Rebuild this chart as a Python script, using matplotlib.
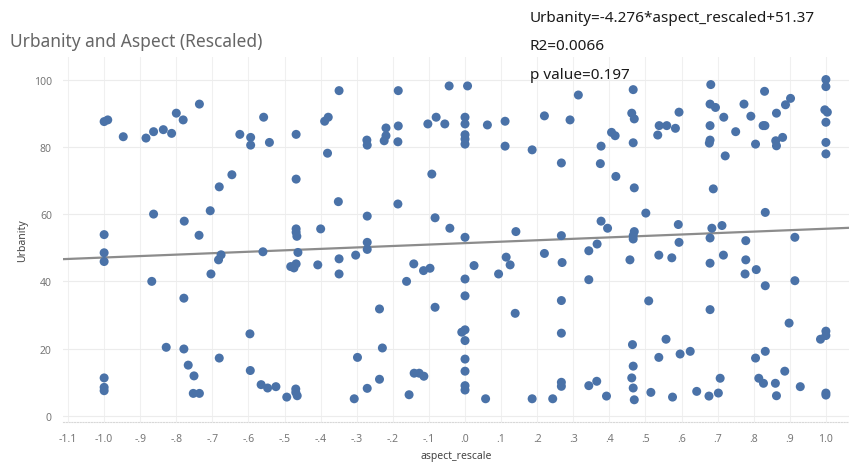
import matplotlib.pyplot as plt

# aspect_rescale (x) e Urbanity (y) de cada ponto
aspect = [
    -0.736, -1.0, -0.99, -0.947, -0.884, -0.863, -0.836, -0.813, -0.800, -0.781,
    -0.863, -0.778, -0.737, -1.0, -1.0, -1.0, -0.868, -0.779,
    -0.828, -0.779, -0.767, -0.751, -0.753, -0.736, -1.0, -1.0, -1.0,
    -0.558, -0.624, -0.594, -0.594, -0.542, -0.468, -0.349, -0.389, -0.379, -0.381,
    -0.646, -0.681, -0.706, -0.468, -0.351, -0.468, -0.468, -0.466, -0.400,
    -0.676, -0.683, -0.704, -0.560, -0.463, -0.483, -0.474, -0.468, -0.408, -0.349, -0.349,
    -0.596, -0.681, -0.595, -0.565, -0.547, -0.524, -0.494, -0.469, -0.469, -0.465,
    -0.185, -0.044, 0.007, -0.272, -0.271, -0.219, -0.219, -0.224, -0.185, -0.186,
    -0.103, -0.080, -0.056, 0.0, 0.0, 0.0, 0.0, 0.0,
    -0.092, -0.186, -0.271, -0.083, -0.042, 0.0, -0.271, -0.271, -0.303,
    -0.142, -0.115, -0.097, -0.162, 0.025, 0.0, 0.0, -0.237, -0.083,
    -0.009, 0.0, 0.0, -0.298, -0.229, 0.0, 0.0, -0.141, -0.127, -0.114,
    -0.237, -0.271, -0.307, -0.155, 0.0, 0.0,
    0.062, 0.111, 0.111, 0.186, 0.220, 0.291, 0.314, 0.267, 0.377, 0.375,
    0.141, 0.267, 0.114, 0.125, 0.093, 0.220, 0.269, 0.343, 0.366, 0.377, 0.395, 0.343,
    0.267, 0.139, 0.267, 0.343, 0.365, 0.267, 0.267, 0.057, 0.186, 0.243, 0.392,
    0.466, 0.462, 0.469, 0.466, 0.406, 0.416, 0.418, 0.469, 0.534, 0.538, 0.559, 0.583, 0.593,
    0.681, 0.679, 0.694, 0.717, 0.679, 0.679, 0.677, 0.721, 0.750, 0.773, 0.688,
    0.501, 0.469, 0.466, 0.466, 0.591, 0.593, 0.684, 0.679, 0.712,
    0.457, 0.537, 0.573, 0.679, 0.716, 0.778, 0.778, 0.776,
    0.509, 0.679, 0.464, 0.557, 0.537, 0.596, 0.624, 0.466, 0.462, 0.466, 0.469, 0.707,
    0.515, 0.575, 0.642, 0.676, 0.702,
    0.830, 0.792, 0.826, 0.831, 0.805, 0.863, 0.888, 0.902, 0.861, 0.863, 0.880,
    1.0, 1.0, 0.997, 1.004, 1.0, 1.0, 1.0,
    0.832, 0.914, 0.807, 0.832, 0.914, 0.898, 1.0, 1.0, 0.985,
    0.805, 0.832, 0.886, 0.814, 0.827, 0.860, 0.863, 0.929, 1.0, 1.0,
]
urbanity = [
    92.7, 87.5, 88.0, 83.0, 82.6, 84.5, 85.1, 84.0, 90.0, 88.0,
    60.0, 57.9, 53.7, 53.9, 48.5, 45.9, 40.0, 35.0,
    20.4, 19.9, 15.1, 11.9, 6.7, 6.7, 11.3, 8.5, 7.5,
    88.8, 83.7, 82.8, 80.5, 81.3, 83.7, 96.7, 87.6, 88.8, 78.1,
    71.7, 68.1, 61.0, 70.4, 63.7, 55.6, 54.6, 53.4, 55.6,
    47.9, 46.4, 42.2, 48.8, 48.6, 44.4, 44.0, 45.2, 44.9, 46.7, 42.2,
    24.4, 17.2, 13.5, 9.3, 8.3, 8.7, 5.6, 8.0, 7.0, 6.0,
    96.7, 98.1, 98.1, 82.0, 80.5, 85.6, 83.3, 81.8, 86.2, 81.5,
    86.8, 88.8, 86.8, 88.8, 86.8, 83.6, 82.3, 80.8,
    71.9, 63.0, 59.4, 58.9, 55.8, 53.1, 51.6, 49.5, 47.8,
    45.2, 43.2, 43.9, 40.0, 44.7, 40.7, 35.7, 31.8, 32.3,
    24.9, 25.6, 22.4, 17.4, 20.2, 16.9, 13.3, 12.7, 12.7, 11.8,
    10.9, 8.2, 5.1, 6.3, 9.0, 7.7,
    86.5, 87.6, 80.2, 79.1, 89.2, 88.0, 95.4, 75.2, 80.2, 75.0,
    54.8, 53.6, 47.2, 44.9, 42.2, 48.3, 45.6, 49.1, 51.1, 57.9, 55.8, 40.5,
    34.3, 30.5, 24.6, 9.0, 10.3, 10.0, 8.8, 5.1, 5.1, 5.1, 5.9,
    97.0, 90.0, 88.3, 81.2, 84.3, 83.3, 71.2, 67.8, 83.5, 86.3, 86.3, 85.5, 90.3,
    98.5, 92.7, 91.7, 88.8, 86.3, 82.0, 81.1, 77.3, 84.5, 92.7, 67.5,
    60.3, 54.8, 53.6, 52.6, 56.9, 51.6, 55.8, 52.9, 56.6,
    46.4, 47.8, 47.0, 45.4, 47.8, 52.1, 46.4, 42.2,
    34.2, 31.6, 21.2, 22.8, 17.4, 18.4, 19.2, 14.8, 11.3, 8.3, 4.8, 11.2,
    7.0, 5.6, 7.3, 5.9, 6.8,
    96.5, 89.1, 86.3, 86.3, 80.8, 90.0, 92.5, 94.4, 81.8, 80.3, 82.8,
    100.0, 97.9, 91.0, 90.3, 87.3, 81.3, 77.9,
    60.5, 53.1, 43.5, 38.7, 40.2, 27.6, 25.2, 23.9, 22.8,
    17.2, 19.2, 13.3, 11.2, 9.7, 9.7, 6.0, 8.7, 6.8, 6.2,
]

# coeficientes da reta de tendencia
coef = -4.276
intercepto = 51.37
r2 = 0.0066
p_valor = 0.197

x_ticks = [-1.1, -1.0, -0.9, -0.8, -0.7, -0.6, -0.5, -0.4, -0.3, -0.2, -0.1,
           0.0, 0.1, 0.2, 0.3, 0.4, 0.5, 0.6, 0.7, 0.8, 0.9, 1.0]
x_labels = ['-1.1', '-1.0', '-.9', '-.8', '-.7', '-.6', '-.5', '-.4', '-.3', '-.2', '-.1',
            '.0', '.1', '.2', '.3', '.4', '.5', '.6', '.7', '.8', '.9', '1.0']
y_ticks = [0, 20, 40, 60, 80, 100]

plt.rcParams['font.family'] = ['Noto Sans', 'DejaVu Sans']

fig = plt.figure(figsize=(8.49, 4.64), dpi=100)
ax = fig.add_axes([0.0742, 0.0884, 0.9258, 0.7866])

xmin, xmax = -1.114, 1.064
ax.set_xlim(xmin, xmax)
ax.set_ylim(-1.8, 106.7)

# grade clara
for xt in x_ticks:
    ax.axvline(xt, color='#f0f0f0', lw=0.8, zorder=0)
for yt in y_ticks:
    ax.axhline(yt, color='#ececec', lw=0.8, zorder=0)

# reta de tendencia (o eixo da equacao corre no sentido oposto ao do grafico)
ax.plot([xmin, xmax], [intercepto - coef * xmin, intercepto - coef * xmax],
        color='#8c8c8c', lw=1.6, zorder=2)

ax.scatter(aspect, urbanity, s=42, color='#4a72a8', edgecolors='none', zorder=3)

ax.set_xticks(x_ticks)
ax.set_xticklabels(x_labels)
ax.set_yticks(y_ticks)
ax.tick_params(length=0, labelsize=7.5, colors='#777777', pad=8)

for lado in ['top', 'right', 'left']:
    ax.spines[lado].set_visible(False)
ax.spines['bottom'].set_color('#d8d8d8')
ax.spines['bottom'].set_linestyle((0, (1, 1.5)))

ax.set_xlabel('aspect_rescale', fontsize=7.5, color='#444444', labelpad=4)
ax.set_ylabel('Urbanity', fontsize=7.5, color='#444444', labelpad=4)

fig.text(0.012, 0.909, 'Urbanity and Aspect (Rescaled)', fontsize=12.5,
         color='#666666', va='center')

fig.text(0.624, 0.961, f'Urbanity={coef}*aspect_rescaled+{intercepto}',
         fontsize=11, color='#1a1a1a', va='center')
fig.text(0.624, 0.899, f'R2={r2}', fontsize=11, color='#1a1a1a', va='center')
fig.text(0.624, 0.838, f'p value={p_valor}', fontsize=11, color='#1a1a1a', va='center')

fig.savefig('out.png', dpi=100, facecolor='white')
